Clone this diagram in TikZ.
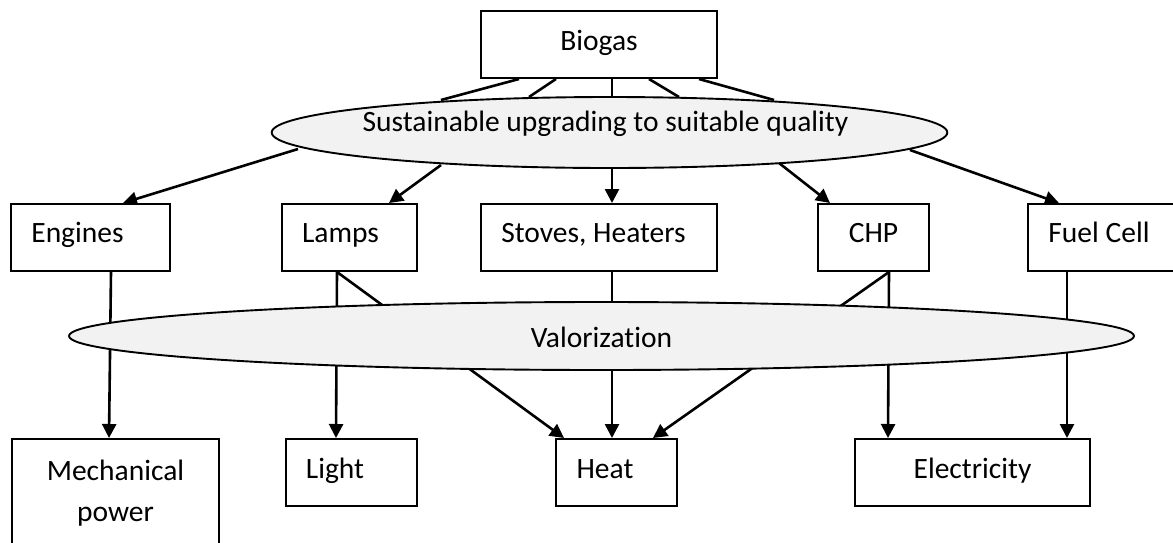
\documentclass[tikz,border=0pt]{standalone}
\usepackage{fontspec}
\setmainfont[Ligatures={NoCommon}]{Carlito}
\usetikzlibrary{arrows.meta,shapes.geometric,backgrounds}
\definecolor{ellfill}{HTML}{F2F2F2}
\tikzset{
  box/.style={draw=black, line width=2pt, fill=white, rectangle, minimum height=67pt, inner sep=0pt},
  tb/.style={text height=17pt, text depth=7pt},
  oval/.style={draw=black, line width=1.9pt, fill=ellfill, ellipse, inner sep=0pt},
  conn/.style={line width=2.6pt, draw=black},
  arr/.style={conn, -{Triangle[length=14pt,width=14pt]}},
}
\begin{document}
\begin{tikzpicture}[x=1pt,y=-1pt, font=\fontsize{29.5}{41}\selectfont]
\useasboundingbox (0,0) rectangle (1173,542);
\clip (0,0) rectangle (1173,542);
\node[box, tb, minimum width=236pt, text height=18pt] (bio) at (599,44.5) {Biogas};
\node[box, tb, minimum width=159pt] (eng) at (90.5,237.5) {\hspace*{-26pt}Engines};
\node[box, tb, minimum width=135pt] (lamp) at (349.5,237.5) {\hspace*{-18pt}Lamps};
\node[box, tb, minimum width=236pt] (stove) at (599,237.5) {\hspace*{-11pt}Stoves, Heaters};
\node[box, tb, minimum width=111pt] (chp) at (873.5,237.5) {CHP};
\node[box, tb, minimum width=162pt] (fuel) at (1109,237.5) {\hspace*{-20pt}Fuel Cell};
\node[box, minimum width=207pt, minimum height=108pt, align=center] (mech) at (115.5,493) {Mechanical\\power};
\node[box, tb, minimum width=131pt, text height=18pt] (light) at (351.5,472.5) {\hspace*{-33pt}Light};
\node[box, tb, minimum width=121pt, text height=18pt] (heat) at (616.5,472.5) {\hspace*{-23pt}Heat};
\node[box, tb, minimum width=235pt, text height=18pt] (elec) at (972.5,472.5) {Electricity};
\node[oval, minimum width=675pt, minimum height=71pt, text height=8pt, text depth=10pt] (upg) at (609.5,132.5) {\hspace*{-8pt}Sustainable upgrading to suitable quality};
\node[oval, minimum width=1065pt, minimum height=68pt, text height=26pt, text depth=4pt] (val) at (601.5,336) {Valorization};
\begin{scope}[on background layer]
\draw[conn] ([xshift=-80pt]bio.south) -- ([xshift=-168.5pt,yshift=32.5pt]upg.center);
\draw[conn] ([xshift=-43pt]bio.south) -- ([xshift=-80.5pt,yshift=35.5pt]upg.center);
\draw[conn] ([xshift=13pt]bio.south) -- ([xshift=13pt]bio.south |- upg.north);
\draw[conn] ([xshift=50pt]bio.south) -- ([xshift=69.5pt,yshift=35.5pt]upg.center);
\draw[conn] ([xshift=100pt]bio.south) -- ([xshift=164.5pt,yshift=32.5pt]upg.center);
\draw[arr] ([xshift=-311.5pt,yshift=-16.5pt]upg.center) -- ([xshift=32.5pt]eng.north);
\draw[arr] ([xshift=-168.5pt,yshift=-32.5pt]upg.center) -- ([xshift=39.5pt]lamp.north);
\draw[arr] ([xshift=13pt]stove.north |- upg.south) -- ([xshift=13pt]stove.north);
\draw[arr] ([xshift=169.5pt,yshift=-30.5pt]upg.center) -- ([xshift=-43.5pt]chp.north);
\draw[arr] ([xshift=300.5pt,yshift=-17.5pt]upg.center) -- ([xshift=-50pt]fuel.north);
\draw[arr] ([xshift=20.5pt]eng.south) -- ([xshift=-6.5pt]mech.north);
\draw[arr] ([xshift=-12.5pt]lamp.south) -- ([xshift=-15.5pt]light.north);
\draw[arr] ([xshift=-12.5pt]lamp.south) -- ([xshift=-52.5pt]heat.north);
\draw[arr] ([xshift=13pt]stove.south) -- ([xshift=-4.5pt]heat.north);
\draw[arr] ([xshift=15.5pt]chp.south) -- ([xshift=36.5pt]heat.north);
\draw[arr] ([xshift=15.5pt]chp.south) -- ([xshift=-84.5pt]elec.north);
\draw[arr] ([xshift=-42pt]fuel.south) -- ([xshift=94.5pt]elec.north);
\end{scope}
\end{tikzpicture}
\end{document}
